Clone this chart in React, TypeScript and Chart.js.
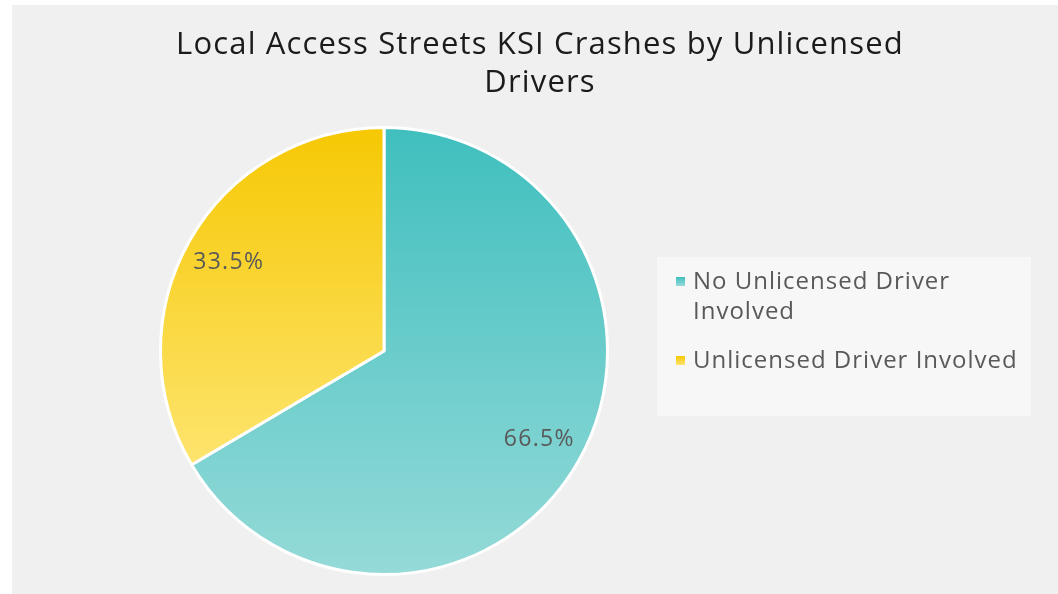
import React, { useEffect, useRef } from "react";
import { Chart, registerables } from "chart.js";

Chart.register(...registerables);

const titleLines = ["Local Access Streets KSI Crashes by Unlicensed", "Drivers"];
const categories = ["No Unlicensed Driver Involved", "Unlicensed Driver Involved"];
const legendLines = [["No Unlicensed Driver", "Involved"], ["Unlicensed Driver Involved"]];
const values = [66.5, 33.5];
const valueLabels = ["66.5%", "33.5%"];
const topColors = ["#3fbfbe", "#f6c803"];
const bottomColors = ["#95dad8", "#fde46e"];

const FONT = "'Open Sans', 'DejaVu Sans', sans-serif";

function pieGeom(chart: any) {
  const a = chart.chartArea;
  const cx = (a.left + a.right) / 2;
  const cy = (a.top + a.bottom) / 2;
  const r = Math.min(a.right - a.left, a.bottom - a.top) / 2;
  return { cx, cy, r };
}

const overlayPlugin = {
  id: "overlay",
  afterDraw(chart: any) {
    const ctx = chart.ctx as any;
    ctx.save();
    // title
    ctx.fillStyle = "#1b1b1b";
    ctx.font = `31px ${FONT}`;
    ctx.letterSpacing = "1.15px";
    ctx.textAlign = "center";
    ctx.textBaseline = "alphabetic";
    ctx.fillText(titleLines[0], 528, 49);
    ctx.fillText(titleLines[1], 528, 87);

    // value labels
    const meta = chart.getDatasetMeta(0);
    ctx.font = `23px ${FONT}`;
    ctx.letterSpacing = "1.3px";
    ctx.fillStyle = "#595959";
    ctx.textBaseline = "middle";
    meta.data.forEach((arc: any, i: number) => {
      const p = arc.getProps(["x", "y", "startAngle", "endAngle", "outerRadius"], true);
      const mid = (p.startAngle + p.endAngle) / 2;
      const d = p.outerRadius * 0.8;
      ctx.fillText(valueLabels[i], p.x + Math.cos(mid) * d, p.y + Math.sin(mid) * d);
    });

    // legend
    ctx.fillStyle = "#f7f7f7";
    ctx.fillRect(645, 252, 374, 159);
    ctx.font = `24px ${FONT}`;
    ctx.letterSpacing = "1px";
    ctx.textAlign = "left";
    ctx.textBaseline = "alphabetic";
    const baselines = [284, 363];
    legendLines.forEach((lines, i) => {
      const by = baselines[i];
      const g = ctx.createLinearGradient(0, by - 12, 0, by - 3);
      g.addColorStop(0, topColors[i]);
      g.addColorStop(1, bottomColors[i]);
      ctx.fillStyle = g;
      ctx.fillRect(664, by - 12, 9, 9);
      ctx.fillStyle = "#595959";
      lines.forEach((t, j) => ctx.fillText(t, 681, by + j * 30));
    });
    ctx.restore();
  },
};

export default function App() {
  const ref = useRef<HTMLCanvasElement | null>(null);
  useEffect(() => {
    document.body.style.margin = "0";
    document.documentElement.style.background = "#f0f0f0";
    if (!ref.current) return;
    const total = values.reduce((s, v) => s + v, 0);
    const chart = new Chart(ref.current, {
      type: "pie",
      data: {
        labels: categories,
        datasets: [
          {
            data: values,
            borderColor: "#ffffff",
            borderWidth: 3,
            backgroundColor: (c: any) => {
              const chart = c.chart;
              const i = c.dataIndex ?? 0;
              if (!chart.chartArea) return topColors[i];
              const { cy, r } = pieGeom(chart);
              let bottom = cy + r;
              if (i === 1) bottom = cy - r * Math.cos((2 * Math.PI * values[0]) / total);
              const g = chart.ctx.createLinearGradient(0, cy - r, 0, bottom);
              g.addColorStop(0, topColors[i]);
              g.addColorStop(1, bottomColors[i]);
              return g;
            },
          },
        ],
      },
      options: {
        responsive: false,
        animation: false,
        layout: { padding: { left: 147, right: 449, top: 121, bottom: 18 } },
        plugins: {
          legend: { display: false },
          title: { display: false },
          tooltip: { enabled: false },
        },
      },
      plugins: [overlayPlugin],
    });
    return () => chart.destroy();
  }, []);
  return (
    <>
      <div style={{ position: "fixed", left: 0, top: 0, width: 12, height: 620, background: "#ffffff" }} />
      <div style={{ position: "fixed", left: 0, top: 0, width: 1100, height: 5, background: "#ffffff" }} />
      <div style={{ position: "fixed", left: 12, top: 5, width: 1046, height: 600, background: "#f0f0f0" }}>
        <canvas ref={ref} width={1046} height={589} style={{ display: "block" }} />
      </div>
    </>
  );
}
